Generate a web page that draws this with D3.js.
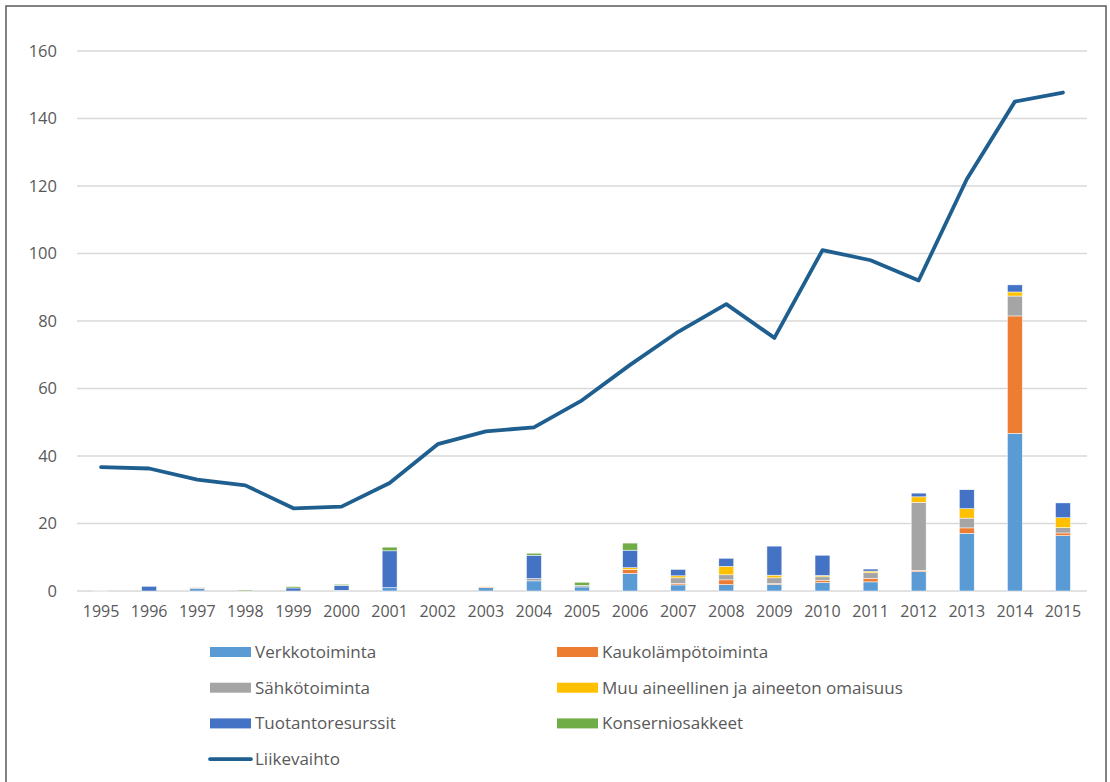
<!DOCTYPE html>
<html>
<head>
<meta charset="utf-8">
<script src="https://cdn.jsdelivr.net/npm/d3@7"></script>
<style>
  body { margin: 0; background: #fff; }
  svg { display: block; font-family: "Open Sans", Lato, sans-serif; }
</style>
</head>
<body>
<svg id="chart"></svg>
<script>
const years = ["1995","1996","1997","1998","1999","2000","2001","2002","2003","2004","2005",
  "2006","2007","2008","2009","2010","2011","2012","2013","2014","2015"];

const verkkotoiminta   = [0, 0, 0.7, 0, 0, 0, 1.0, 0, 1.0, 3.0, 1.2, 5.2, 1.8, 1.9, 1.9, 2.5, 2.7, 5.7, 17.1, 46.7, 16.4];
const kaukolampo       = [0, 0, 0, 0, 0, 0, 0, 0, 0.2, 0, 0, 1.2, 0.5, 1.4, 0.3, 0.7, 1.0, 0.4, 1.6, 34.8, 0.8];
const sahkotoiminta    = [0.2, 0, 0.3, 0, 0, 0.2, 0, 0, 0, 0.7, 0.5, 0, 1.6, 1.5, 1.7, 1.0, 1.7, 20.2, 2.9, 5.9, 1.6];
const muuOmaisuus      = [0, 0, 0, 0, 0, 0, 0, 0, 0.2, 0, 0, 0.5, 0.6, 2.5, 0.8, 0.4, 0.5, 1.6, 2.8, 1.2, 2.9];
const tuotantoresurssit= [0, 1.4, 0, 0, 0.9, 1.5, 10.9, 0, 0, 6.9, 0, 5.2, 1.9, 2.4, 8.6, 6.0, 0.6, 1.1, 5.6, 2.1, 4.4];
const konserniosakkeet = [0, 0, 0, 0.3, 0.4, 0.3, 1.1, 0, 0, 0.6, 0.9, 2.1, 0, 0, 0, 0, 0, 0, 0, 0, 0];

const liikevaihto = [36.7, 36.3, 33.0, 31.3, 24.5, 25.0, 32.0, 43.5, 47.3, 48.5, 56.5,
  67.0, 76.8, 85.0, 75.0, 101.0, 98.0, 92.0, 122.0, 145.0, 147.7];

const yTicks = [0, 20, 40, 60, 80, 100, 120, 140, 160];

const seriesNames = ["Verkkotoiminta", "Kaukolämpötoiminta", "Sähkötoiminta",
  "Muu aineellinen ja aineeton omaisuus", "Tuotantoresurssit", "Konserniosakkeet"];
const seriesValues = [verkkotoiminta, kaukolampo, sahkotoiminta, muuOmaisuus, tuotantoresurssit, konserniosakkeet];
const seriesColors = ["#5b9bd5", "#ed7d31", "#a5a5a5", "#ffc000", "#4472c4", "#70ad47"];
const lineName = "Liikevaihto";
const lineColor = "#1f5f8f";

const WIDTH = 1110;
const HEIGHT = 782;
const TEXT = "#595959";
const FONT = "'Open Sans', Lato, sans-serif";

const svg = d3.select("#chart").attr("width", WIDTH).attr("height", HEIGHT);

// frame around the whole chart
svg.append("rect")
  .attr("x", 6).attr("y", 6)
  .attr("width", 1100).attr("height", 820)
  .attr("fill", "none")
  .attr("stroke", "#595959")
  .attr("stroke-width", 1.5);

const scaleX = d3.scaleBand()
  .domain(years)
  .range([77, 1087])
  .paddingInner(0.69)
  .paddingOuter(0.345);

const scaleY = d3.scaleLinear().domain([0, 160]).range([591, 51]);

// grid
svg.append("g")
  .selectAll("line")
  .data(yTicks)
  .join("line")
  .attr("x1", 77).attr("x2", 1087)
  .attr("y1", (d) => scaleY(d)).attr("y2", (d) => scaleY(d))
  .attr("stroke", "#d9d9d9")
  .attr("stroke-width", 1.3);

const axisY = d3.axisLeft(scaleY).tickValues(yTicks).tickSize(0).tickPadding(0);
svg.append("g")
  .attr("transform", "translate(57,0)")
  .call(axisY)
  .call((g) => g.select(".domain").remove())
  .call((g) => g.selectAll("text")
    .attr("fill", TEXT)
    .style("font-size", "16.5px")
    .style("font-family", FONT));

const axisX = d3.axisBottom(scaleX).tickSize(0).tickPadding(0);
svg.append("g")
  .attr("transform", "translate(0,606)")
  .call(axisX)
  .call((g) => g.select(".domain").remove())
  .call((g) => g.selectAll("text")
    .attr("dy", "0.71em")
    .attr("fill", TEXT)
    .style("font-size", "16px")
    .style("font-family", FONT));

// stacked bars
const rows = years.map((year, i) => {
  let row = { year: year };
  seriesNames.forEach((name, s) => { row[name] = seriesValues[s][i]; });
  return row;
});
const stacked = d3.stack().keys(seriesNames)(rows);

svg.append("g")
  .selectAll("g")
  .data(stacked)
  .join("g")
  .attr("fill", (d, i) => seriesColors[i])
  .selectAll("rect")
  .data((d) => d.filter((p) => p[1] - p[0] > 0))
  .join("rect")
  .attr("x", (p) => scaleX(p.data.year))
  .attr("width", scaleX.bandwidth())
  .attr("y", (p) => scaleY(p[1]))
  .attr("height", (p) => scaleY(p[0]) - scaleY(p[1]))
  .attr("stroke", "#ffffff")
  .attr("stroke-width", 0.5);

// line
const lineF = d3.line()
  .x((d, i) => scaleX(years[i]) + scaleX.bandwidth() / 2)
  .y((d) => scaleY(d));

svg.append("path")
  .datum(liikevaihto)
  .attr("d", lineF)
  .attr("fill", "none")
  .attr("stroke", lineColor)
  .attr("stroke-width", 3.8)
  .attr("stroke-linejoin", "round")
  .attr("stroke-linecap", "round");

// legend
const legendItems = seriesNames.map((name, i) => ({ name: name, color: seriesColors[i], type: "bar" }));
legendItems.push({ name: lineName, color: lineColor, type: "line" });

const legend = svg.append("g");
legendItems.forEach((item, i) => {
  let col = i % 2;
  let row = Math.floor(i / 2);
  let x = col == 0 ? 210 : 557;
  let y = 652 + row * 35.7;
  let g = legend.append("g").attr("transform", `translate(${x},${y})`);
  if (item.type == "bar") {
    g.append("rect")
      .attr("x", 0).attr("y", -5)
      .attr("width", 41).attr("height", 10)
      .attr("fill", item.color);
  } else {
    g.append("line")
      .attr("x1", 0).attr("x2", 41)
      .attr("y1", 0).attr("y2", 0)
      .attr("stroke", item.color)
      .attr("stroke-width", 3.8)
      .attr("stroke-linecap", "round");
  }
  g.append("text")
    .attr("x", 45).attr("y", 0)
    .attr("dy", "0.35em")
    .attr("fill", TEXT)
    .style("font-size", "17px")
    .style("font-family", FONT)
    .text(item.name);
});
</script>
</body>
</html>
